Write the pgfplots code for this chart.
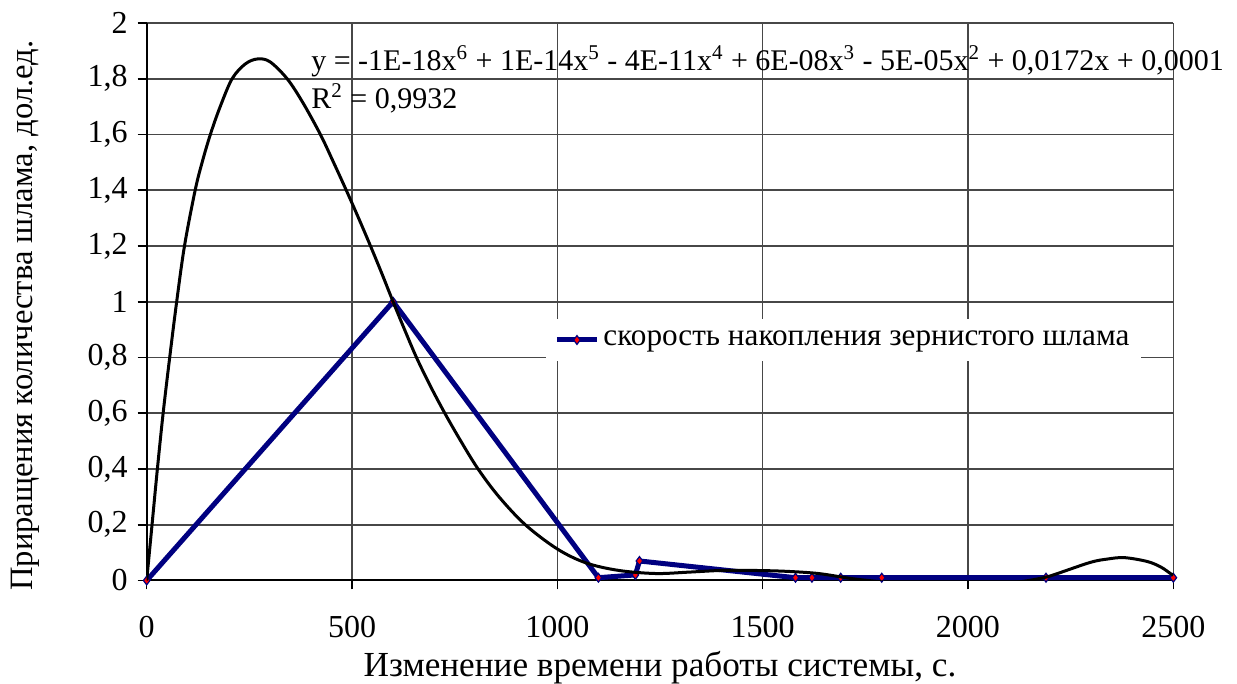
\documentclass[border=0pt]{standalone}
\usepackage{fontspec}
\setmainfont{Liberation Serif}
\usepackage{pgfplots}
\pgfplotsset{compat=1.18}
\definecolor{navyblue}{RGB}{0,0,128}
\begin{document}
\begin{tikzpicture}
\begin{axis}[name=ax, at={(0,0)}, anchor=south west,
  scale only axis, width=513.3pt, height=278.75pt,
  xmin=0, xmax=2500, ymin=0, ymax=2,
  clip mode=individual,
  xtick={0,500,1000,1500,2000,2500},
  ytick={0,0.2,0.4,0.6,0.8,1,1.2,1.4,1.6,1.8,2},
  axis lines=left, axis line style={-, black, line width=1pt},
  grid=major, major grid style={black!72, line width=0.8pt},
  tick align=outside, major tick length=4.5pt, tick style={black, line width=0.8pt},
  /pgf/number format/assume math mode=true,
  /pgf/number format/use comma,
  /pgf/number format/1000 sep={},
  ticklabel style={font=\fontsize{16}{19}\selectfont},
  xticklabel style={yshift=-10pt},
  yticklabel style={xshift=-1.5pt},
  legend style={at={(0.389,0.4695)}, anchor=north west, draw=none, fill=white,
    font=\fontsize{15.6}{19}\selectfont, inner xsep=4pt, inner ysep=4pt},
  legend cell align=left,
  legend image code/.code={\draw[mark repeat=2,mark phase=2,#1] plot coordinates {(0pt,0pt) (10pt,0pt) (20pt,0pt)};},
]
\addplot[navyblue, line width=2.5pt, mark=diamond*, mark size=2.2pt,
  mark options={fill=red, draw=navyblue, line width=0.6pt}] coordinates {
(0,0) (600,1) (1100,0.01) (1190,0.02) (1200,0.07) (1580,0.01) (1620,0.01)
(1690,0.01) (1790,0.01) (2190,0.01) (2500,0.01)};
\addlegendentry{скорость накопления зернистого шлама}
\addplot[black, line width=1.5pt, smooth, tension=0.55, forget plot] coordinates {
(0,0) (13,0.2) (26,0.4) (40,0.6) (56,0.8) (73,1.0) (92,1.2) (118,1.4) (135,1.5)
(155,1.6) (179,1.7) (208,1.80) (240,1.853) (270,1.871) (300,1.861) (342,1.80)
(380,1.715) (423,1.6) (455,1.5) (486,1.4) (516,1.3) (545,1.2) (573,1.1) (600,1.0)
(628,0.9) (657,0.8) (690,0.7) (726,0.6) (765,0.5) (807,0.4) (858,0.3) (922,0.2)
(1000,0.113) (1070,0.063) (1150,0.036) (1240,0.025)
(1320,0.03) (1400,0.036) (1480,0.036) (1556,0.033) (1636,0.025) (1716,0.007)
(1791,-0.005) (1870,-0.015) (1960,-0.02) (2050,-0.016) (2121,-0.006) (2184,0.01)
(2218,0.025) (2298,0.065) (2340,0.077) (2381,0.082) (2437,0.068) (2470,0.048)
(2493,0.025) (2500,0.02)};
\node[anchor=base west, font=\fontsize{15}{18}\selectfont, inner sep=0pt] at (axis cs:400,1.831)
  {y = -1E-18x\textsuperscript{6} + 1E-14x\textsuperscript{5} - 4E-11x\textsuperscript{4} + 6E-08x\textsuperscript{3} - 5E-05x\textsuperscript{2} + 0,0172x + 0,0001};
\node[anchor=base west, font=\fontsize{15}{18}\selectfont, inner sep=0pt] at (axis cs:400,1.695)
  {R\textsuperscript{2} = 0,9932};
\end{axis}
\node[anchor=base, font=\fontsize{17.6}{21}\selectfont, inner sep=0pt] at ([yshift=-48pt]ax.south)
  {Изменение времени работы системы, с.};
\node[anchor=base, rotate=90, font=\fontsize{16.3}{19}\selectfont, inner sep=0pt] at ([xshift=-56.85pt,yshift=-7pt]ax.west)
  {Приращения количества шлама, дол.ед.};
\pgfresetboundingbox
\path[use as bounding box] ([xshift=-73.35pt,yshift=-51.75pt]ax.south west) rectangle ([xshift=31.85pt,yshift=11.5pt]ax.north east);
\end{tikzpicture}
\end{document}
